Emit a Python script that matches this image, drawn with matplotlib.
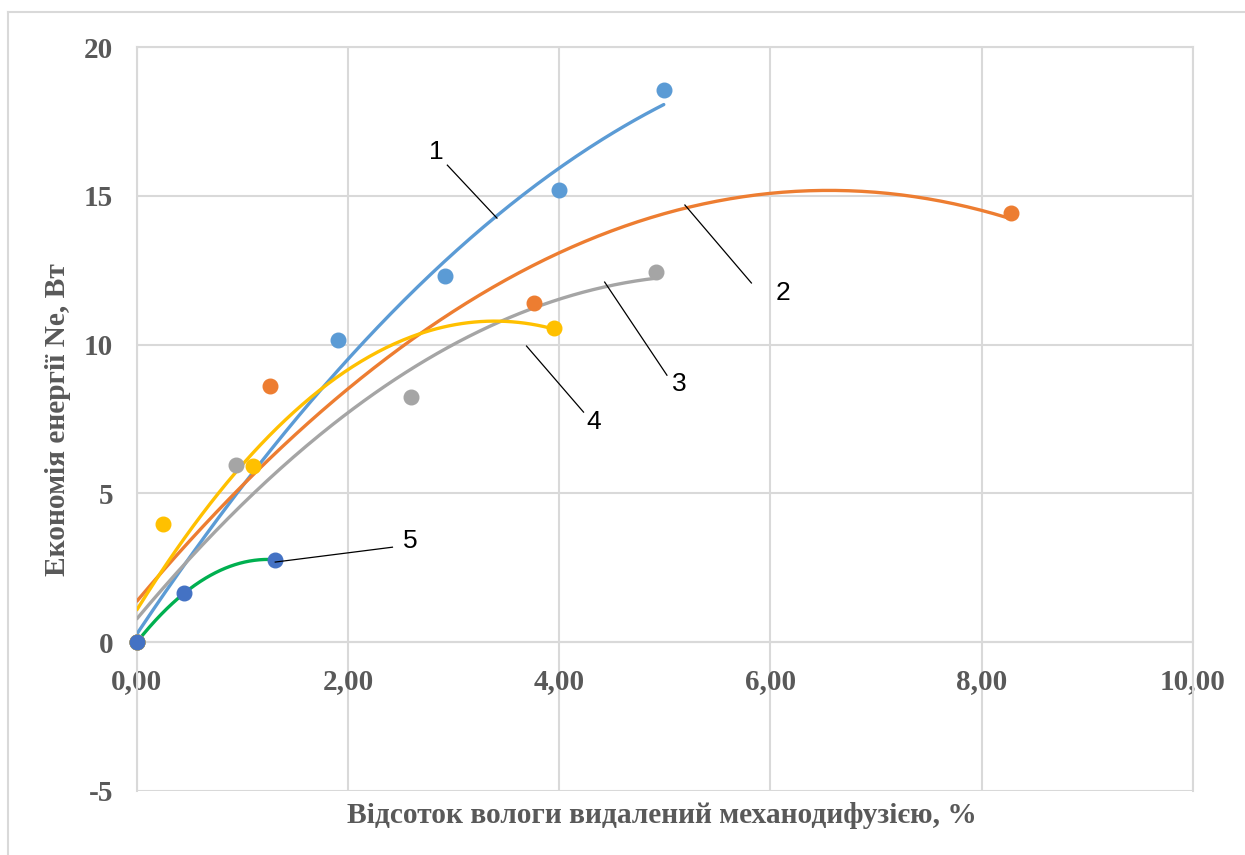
import numpy as np
import matplotlib.pyplot as plt
from matplotlib.lines import Line2D

plt.rcParams['axes.unicode_minus'] = False

# Measured points for the five regimes
x1 = [0.0, 1.90, 2.92, 4.00, 4.99]
y1 = [0.0, 10.15, 12.30, 15.19, 18.57]

x2 = [0.0, 1.26, 3.76, 8.28]
y2 = [0.0, 8.62, 11.40, 14.43]

x3 = [0.0, 0.94, 2.60, 4.92]
y3 = [0.0, 5.95, 8.24, 12.44]

x4 = [0.0, 0.25, 1.10, 3.95]
y4 = [0.0, 3.97, 5.92, 10.55]

x5 = [0.0, 0.45, 1.31]
y5 = [0.0, 1.65, 2.77]

series = [
    (x1, y1, '#5B9BD5', '#5B9BD5'),
    (x2, y2, '#ED7D31', '#ED7D31'),
    (x3, y3, '#A5A5A5', '#A5A5A5'),
    (x4, y4, '#FFC000', '#FFC000'),
    (x5, y5, '#4472C4', '#00B050'),
]

# curve labels: number, text position, leader line start, leader line end
labels = [
    ('1', (2.84, 16.47), (2.94, 16.03), (3.41, 14.25)),
    ('2', (6.12, 11.73), (5.82, 12.07), (5.19, 14.69)),
    ('3', (5.14, 8.67), (5.02, 8.97), (4.43, 12.10)),
    ('4', (4.33, 7.39), (4.23, 7.73), (3.69, 9.95)),
    ('5', (2.59, 3.39), (2.42, 3.19), (1.31, 2.69)),
]

xticks = [0, 2, 4, 6, 8, 10]
yticks = [-5, 0, 5, 10, 15, 20]

grid_c = '#D9D9D9'
text_c = '#595959'

fig = plt.figure(figsize=(12.45, 8.55), dpi=100)
ax = fig.add_axes([0.110, 0.075, 0.848, 0.870])

# thin frame around the chart area
fig.add_artist(Line2D([8/1245, 8/1245], [0, 1 - 12/855], color=grid_c, lw=1.5))
fig.add_artist(Line2D([8/1245, 1], [1 - 12/855, 1 - 12/855], color=grid_c, lw=1.5))

# second order trend lines, then the points on top
for xs, ys, mc, lc in series:
    c = np.polyfit(xs, ys, 2)
    xx = np.linspace(0, max(xs), 200)
    ax.plot(xx, np.polyval(c, xx), color=lc, lw=2.4, zorder=3, solid_capstyle='round')
for xs, ys, mc, lc in series:
    ax.plot(xs, ys, 'o', color=mc, ms=10.5, zorder=4, clip_on=False)

for num, tp, p0, p1 in labels:
    ax.plot([p0[0], p1[0]], [p0[1], p1[1]], color='black', lw=0.9, zorder=5)
    ax.text(tp[0], tp[1], num, fontsize=19, family='Liberation Sans',
            ha='center', va='center', zorder=5)

ax.set_xlim(0, 10)
ax.set_ylim(-5, 20)
ax.set_xticks(xticks)
ax.set_yticks(yticks)
ax.set_xticklabels([('%.2f' % v).replace('.', ',') for v in xticks])
ax.grid(True, color=grid_c, lw=1.5)
ax.set_axisbelow(True)

for s in ['top', 'right', 'left']:
    ax.spines[s].set_color(grid_c)
    ax.spines[s].set_linewidth(1.5)
ax.spines['bottom'].set_position(('data', 0))
ax.spines['bottom'].set_color(grid_c)
ax.spines['bottom'].set_linewidth(1.5)

ax.tick_params(length=0, labelsize=21, labelcolor=text_c)
ax.tick_params(axis='x', pad=19)
ax.tick_params(axis='y', pad=17)
for t in ax.get_xticklabels() + ax.get_yticklabels():
    t.set_family('Liberation Serif')
    t.set_fontweight('bold')

fig.text(0.532, 1 - 815/855, 'Відсоток вологи видалений механодифузією, %',
         family='Liberation Serif', fontweight='bold', fontsize=21.2, color=text_c,
         ha='center', va='center')
fig.text(58/1245, 1 - 420/855, 'Економія енергії Ne, Вт',
         family='Liberation Serif', fontweight='bold', fontsize=21.2, color=text_c,
         ha='center', va='center', rotation=90)

fig.savefig('out.png', dpi=100)
